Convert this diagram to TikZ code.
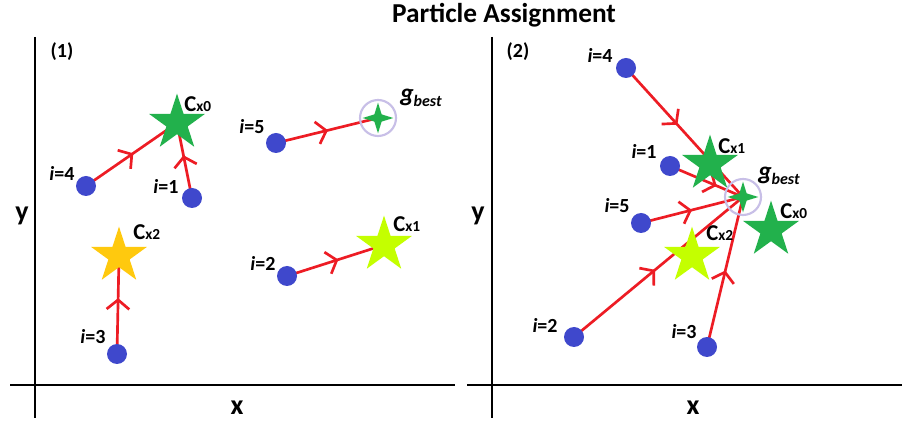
\documentclass[tikz,border=0pt]{standalone}
\usepackage{fontspec}
\setmainfont{Carlito}
\usetikzlibrary{shapes.geometric,decorations.markings,arrows.meta,backgrounds}
\definecolor{dotblue}{HTML}{3F48CC}
\definecolor{stargreen}{HTML}{22B14C}
\definecolor{arrred}{HTML}{ED1C24}
\definecolor{ringpurple}{HTML}{C8BFE7}
\definecolor{starlime}{HTML}{C4FF00}
\definecolor{staryellow}{HTML}{FFC90E}
\newcommand\cxlab[1]{{\fontsize{17}{17}\selectfont C}{\fontsize{11.5}{11.5}\selectfont x#1}}
\newcommand\gblab{{\fontsize{19}{19}\selectfont\textit{g}}{\fontsize{12}{12}\selectfont\raisebox{-3.5pt}{\textit{best}}}}
\tikzset{
  pdot/.style={circle, fill=dotblue, minimum size=15pt, inner sep=0pt},
  bigstar/.style={star, star points=5, star point ratio=2.618, minimum size=44pt, inner sep=0pt, fill=#1},
  gstar/.style={star, star points=4, star point ratio=3, minimum size=23pt, inner sep=0pt, fill=stargreen},
  ring/.style={circle, draw=ringpurple, line width=1.6pt, minimum size=27pt, inner sep=0pt},
  lab/.style={font=\bfseries\fontsize{15}{15}\selectfont, inner sep=0pt},
  axlab/.style={font=\bfseries\fontsize{21}{21}\selectfont, inner sep=0pt},
  axis/.style={line width=2.2pt, black},
  conn/.style={color=arrred, line width=2pt, postaction={decorate},
    decoration={markings, mark=at position #1 with {\arrow{Straight Barb[length=7pt,width=17pt,line width=2pt]}}}},
  conn/.default=0.5
}
\begin{document}
\begin{tikzpicture}[x=0.75pt,y=-0.75pt]
\useasboundingbox (0,0) rectangle (902,423);
\begin{scope}[on background layer]
\fill[white] (0,0) rectangle (902,423);
\end{scope}
% title
\node[font=\bfseries\fontsize{20.5}{20.5}\selectfont, inner sep=0pt] (title) at (504,15) {Particle Assignment};
% axes
\draw[axis] (35,37) -- (35,418);
\draw[axis] (10,385) -- (455,385);
\draw[axis] (492,37) -- (492,418);
\draw[axis] (467,385) -- (902,385);
\node[axlab] (y1) at (22,216) {y};
\node[axlab] (x1) at (237,408) {x};
\node[axlab] (y2) at (478,216) {y};
\node[axlab] (x2) at (693,408) {x};
\node[lab] (n1) at (62,52) {(1)};
\node[lab] (n2) at (518,52) {(2)};

% ---------- panel 1 ----------
\node[pdot] (a4) at (86,186) {};
\node[pdot] (a1) at (192,198) {};
\node[pdot] (a5) at (276,143) {};
\node[pdot] (a2) at (287,276) {};
\node[pdot] (a3) at (117,354) {};
\node[bigstar=stargreen] (acx0) at (177,123) {};
\node[bigstar=starlime] (acx1) at (384,245) {};
\node[bigstar=staryellow] (acx2) at (119,256) {};
\node[ring] (agr) at (378,118) {};
\node[gstar] (ag) at (378,118) {};
\node[lab] at (62,173) {\textit{i}=4};
\node[lab] at (166,186) {\textit{i}=1};
\node[lab] at (252,127) {\textit{i}=5};
\node[lab] at (263,263) {\textit{i}=2};
\node[lab] at (93,337) {\textit{i}=3};
\node[lab, anchor=west] at (184,104) {\cxlab{0}};
\node[lab, anchor=west] at (393,224) {\cxlab{1}};
\node[lab, anchor=west] at (133,232) {\cxlab{2}};
\node[lab, anchor=west] at (400,98) {\gblab};

% ---------- panel 2 ----------
\node[pdot] (b4) at (626,68) {};
\node[pdot] (b1) at (670,166) {};
\node[pdot] (b5) at (641,223) {};
\node[pdot] (b2) at (574,337) {};
\node[pdot] (b3) at (707,347) {};
\node[bigstar=stargreen] (bcx1) at (710,164) {};
\node[bigstar=stargreen] (bcx0) at (771,230) {};
\node[bigstar=starlime] (bcx2) at (692,256) {};
\node[ring] (bgr) at (743,197) {};
\node[gstar] (bg) at (743,197) {};
\node[lab] at (600,55) {\textit{i}=4};
\node[lab] at (644,151) {\textit{i}=1};
\node[lab] at (617,206) {\textit{i}=5};
\node[lab] at (545,325) {\textit{i}=2};
\node[lab] at (684,332) {\textit{i}=3};
\node[lab, anchor=west] at (718,146) {\cxlab{1}};
\node[lab, anchor=west] at (780,211) {\cxlab{0}};
\node[lab, anchor=west] at (706,233) {\cxlab{2}};
\node[lab, anchor=west] at (758,176) {\gblab};

% ---------- connectors ----------
\begin{scope}[on background layer]
\draw[conn=0.52] (a4.center) -- (acx0.center);
\draw[conn=0.57] (a1.center) -- (acx0.center);
\draw[conn=0.51] (a5.center) -- (ag.center);
\draw[conn=0.53] (a2.center) -- (acx1.center);
\draw[conn=0.57] (a3.center) -- (acx2.center);
\draw[conn=0.44] (b4.center) -- (bg.center);
\draw[conn=0.64] (b1.center) -- (bg.center);
\draw[conn=0.50] (b5.center) -- (bg.center);
\draw[conn=0.48] (b2.center) -- (bg.center);
\draw[conn=0.51] (b3.center) -- (bg.center);
\end{scope}
\end{tikzpicture}
\end{document}
